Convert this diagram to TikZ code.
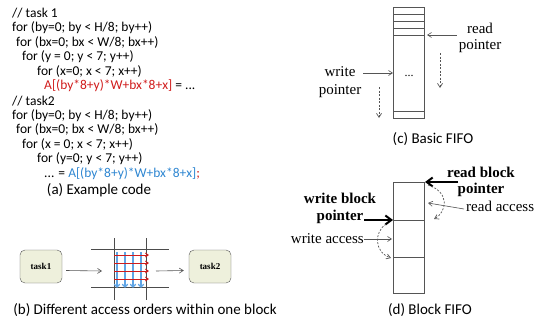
\documentclass[tikz,border=0pt]{standalone}
\usepackage{fontspec}
\setmainfont{Carlito}
\newfontfamily\serifx{Liberation Serif}
\usetikzlibrary{arrows.meta}
\definecolor{codered}{HTML}{D01C1C}
\definecolor{codeblue}{HTML}{2E86D1}
\definecolor{gridblue}{HTML}{5FA5E6}
\definecolor{boxfill}{HTML}{EEF0DC}
\definecolor{lgray}{HTML}{555555}
\tikzset{
  code/.style={anchor=west, inner sep=0pt, font=\fontsize{13.5}{14}\selectfont},
  capt/.style={inner sep=0pt, font=\fontsize{15}{16}\selectfont},
  ser/.style={inner sep=0pt, font=\serifx\fontsize{15}{16}\selectfont},
  serb/.style={inner sep=0pt, font=\serifx\bfseries\fontsize{15}{16}\selectfont},
  taskbox/.style={draw=lgray, fill=boxfill, rounded corners=5pt, minimum width=42pt, minimum height=33pt, inner sep=0pt, font=\serifx\bfseries\fontsize{9}{10}\selectfont},
  fifo/.style={draw=lgray, line width=0.9pt},
  thinarrow/.style={-{Straight Barb[length=4pt,width=5pt]}, line width=0.6pt, draw=lgray},
  thickarrow/.style={-{Straight Barb[length=6pt,width=9pt]}, line width=2pt},
  dasharrow/.style={-{Straight Barb[length=4pt,width=5pt]}, dash pattern=on 2pt off 1.5pt, line width=0.7pt, draw=lgray},
  gridline/.style={draw=black!70, line width=0.9pt},
}
\begin{document}
\begin{tikzpicture}[x=1pt,y=-1pt]
\useasboundingbox (0,0) rectangle (534,329);
% ---------- (a) code ----------
\node[code] (l0) at (12,13) {// task 1};
\node[code] (l1) at (12,27.6) {for (by=0; by < H/8; by++)};
\node[code] (l2) at (16,42.2) {for (bx=0; bx < W/8; bx++)};
\node[code] (l3) at (22,56.8) {for (y = 0; y < 7; y++)};
\node[code] (l4) at (37,71.4) {for (x=0; x < 7; x++)};
\node[code] (l5) at (44,86) {\textcolor{codered}{A[(by*8+y)*W+bx*8+x]} = ...};
\node[code] (l6) at (12,100.6) {// task2};
\node[code] (l7) at (12,115.2) {for (by=0; by < H/8; by++)};
\node[code] (l8) at (16,129.8) {for (bx=0; bx < W/8; bx++)};
\node[code] (l9) at (22,144.4) {for (x = 0; x < 7; x++)};
\node[code] (l10) at (37,159) {for (y=0; y < 7; y++)};
\node[code] (l11) at (44,173.6) {... = \textcolor{codeblue}{A[(by*8+y)*W+bx*8+x]}\textcolor{codered}{;}};
\node[capt] (capa) at (99,190) {(a) Example code};
% ---------- (b) ----------
\node[taskbox] (t1) at (41,266.5) {task1};
\node[taskbox] (t2) at (210,266.5) {task2};
\draw[gridline] (91,249) -- (169,249);
\draw[gridline] (91,287) -- (169,287);
\draw[gridline] (114,238) -- (114,300);
\draw[gridline] (146,238) -- (146,300);
\foreach \xx in {117,125,133,141}
  \draw[gridblue, line width=1.2pt, -{Straight Barb[length=3pt,width=5.5pt]}] (\xx,252) -- (\xx,288);
\foreach \yy in {255,263,271,279}
  \draw[codered, line width=0.8pt, -{Straight Barb[length=3pt,width=4pt]}] (114,\yy) -- (149,\yy);
\coordinate (gin) at (102,271);
\coordinate (gout) at (156,271);
\coordinate (t1o) at ([xshift=4pt,yshift=-4pt]t1.east);
\draw[thinarrow] (t1o) -- (gin);
\draw[thinarrow] (gout) -- ([xshift=-5pt,yshift=-4pt]t2.west);
\node[capt] (capb) at (145,310) {(b) Different access orders within one block};
% ---------- (c) Basic FIFO ----------
\draw[fifo] (393,7) rectangle (424,118);
\foreach \yy in {14,21,28,35,111}
  \draw[fifo] (393,\yy) -- (424,\yy);
\node[inner sep=0pt, font=\serifx\fontsize{12}{12}\selectfont] (dots) at (409,76) {...};
\node[ser] (rp1) at (480,28) {read};
\node[ser] (rp2) at (480,46) {pointer};
\coordinate (rptr) at (427,35);
\draw[thinarrow] ([xshift=-2pt]rp2.west |- rptr) -- (rptr);
\draw[dasharrow] (440,53) -- (440,88);
\node[ser] (wp1) at (340,72) {write};
\node[ser] (wp2) at (340,91) {pointer};
\coordinate (wptr) at (393,73);
\draw[thinarrow] (363,73) -- (wptr);
\draw[dasharrow] (379,87) -- (379,118);
\node[capt] (capc) at (433,139) {(c) Basic FIFO};
% ---------- (d) Block FIFO ----------
\draw[fifo] (393,182) rectangle (424,293);
\draw[fifo] (393,220) -- (424,220);
\draw[fifo] (393,257) -- (424,257);
\node[serb] (rb1) at (481,172) {read block};
\node[serb] (rb2) at (481,190) {pointer};
\draw[thickarrow] (458,182) -- (425,182);
\node[ser, anchor=west] (ra) at (466,206) {read access};
\coordinate (rao) at ([xshift=-2pt,yshift=-3pt]ra.west);
\draw[thinarrow] (rao) -- (428,203);
\draw[dasharrow] (428,185) .. controls (450,192) and (447,212) .. (434,219);
\node[serb] (wb1) at (340,198) {write block};
\node[serb] (wb2) at (340,217) {pointer};
\draw[thickarrow] (364,220) -- (393,220);
\node[ser, anchor=east] (wa) at (364,239) {write access};
\draw[thinarrow] (wa.east) -- (392,239);
\draw[dasharrow] (386,224) .. controls (374,232) and (374,252) .. (391,258);
\node[capt] (capd) at (430,310) {(d) Block FIFO};
\end{tikzpicture}
\end{document}
